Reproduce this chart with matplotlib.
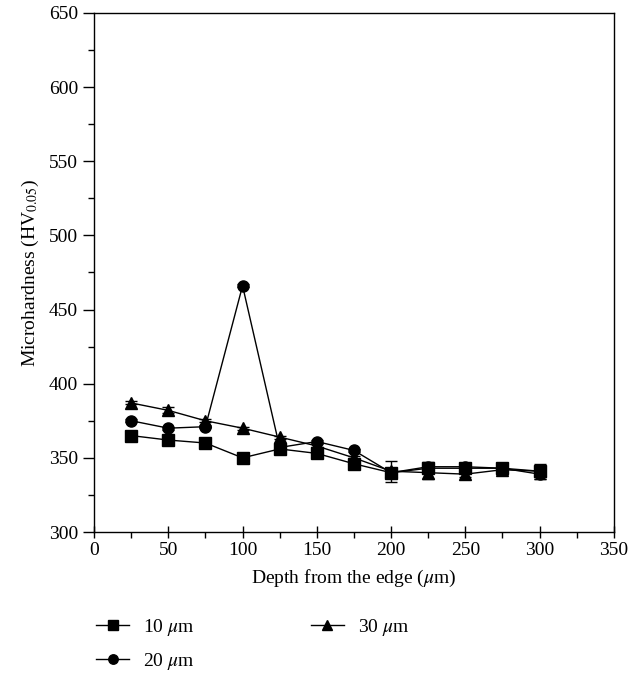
import matplotlib
matplotlib.use("Agg")
import matplotlib.pyplot as plt
from matplotlib.ticker import MultipleLocator

plt.rcParams['font.family'] = ['Liberation Serif', 'DejaVu Serif']
plt.rcParams['mathtext.fontset'] = 'stix'

depth = [25, 50, 75, 100, 125, 150, 175, 200, 225, 250, 275, 300]
hv_10 = [365, 362, 360, 350, 356, 353, 346, 340, 343, 343, 343, 341]
hv_20 = [375, 370, 371, 466, 357, 361, 355, 340, 344, 344, 343, 339]
hv_30 = [387, 382, 375, 370, 364, 358, 350, 341, 340, 339, 342, 341]
err_10 = [1, 1, 1, 1, 1, 1, 1, 2, 2, 2, 2, 2]
err_20 = [1, 1, 1, 1, 1, 1, 1, 3, 3, 2, 2, 3]
err_30 = [1, 2, 1, 1, 1, 1, 1, 7, 4, 2, 3, 5]
labels = ["10 $\\mu$m", "20 $\\mu$m", "30 $\\mu$m"]

fig = plt.figure(figsize=(6.4, 6.76), dpi=100)
ax = fig.add_axes([0.147, 0.213, 0.812, 0.768])

series = [(hv_10, err_10, 's'), (hv_20, err_20, 'o'), (hv_30, err_30, '^')]
for (vals, err, m), lab in zip(series, labels):
    ax.errorbar(depth, vals, yerr=err, color='black', marker=m, markersize=8,
                linewidth=1, elinewidth=1, capsize=4, capthick=1, label=lab)

ax.set_xlim(0, 350)
ax.set_ylim(300, 650)
ax.xaxis.set_major_locator(MultipleLocator(50))
ax.xaxis.set_minor_locator(MultipleLocator(25))
ax.yaxis.set_major_locator(MultipleLocator(50))
ax.yaxis.set_minor_locator(MultipleLocator(25))
ax.tick_params(axis='x', which='major', direction='inout', length=9, width=1, labelsize=14, pad=3)
ax.tick_params(axis='x', which='minor', direction='out', length=4, width=1)
ax.tick_params(axis='y', which='major', direction='out', length=8, width=1, labelsize=14)
ax.tick_params(axis='y', which='minor', direction='out', length=4, width=1)
for s in ax.spines.values():
    s.set_linewidth(1)

ax.set_xlabel("Depth from the edge ($\\mu$m)", fontsize=14, labelpad=6)
ax.set_ylabel("Microhardness (HV$_{0.05}$)", fontsize=14, labelpad=6)

handles, labs = ax.get_legend_handles_labels()
handles = [h[0] for h in handles]
fig.legend(handles, labs, loc='upper left', bbox_to_anchor=(0.150, 0.088), ncol=2,
           frameon=False, fontsize=14, handlelength=1.7, columnspacing=6,
           labelspacing=0.7, handletextpad=0.7, borderaxespad=0, borderpad=0,
           markerscale=0.85)

fig.savefig("out.png", dpi=100)
